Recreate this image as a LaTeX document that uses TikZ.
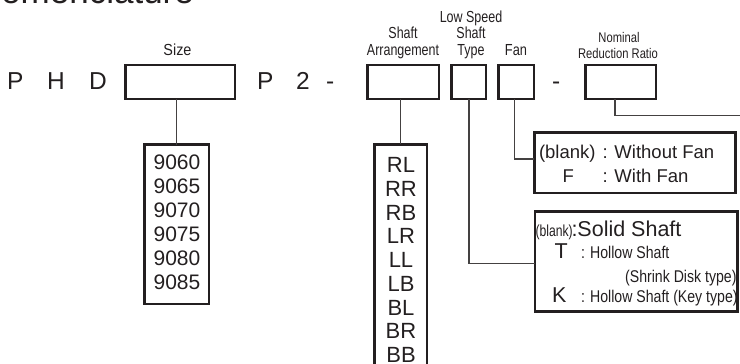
\documentclass[tikz,border=0pt]{standalone}
\usepackage{fontspec}
\setmainfont{Liberation Sans}
\definecolor{ink}{HTML}{231F20}
\newcommand\fpart{\fontsize{24.5pt}{29pt}\selectfont}
\newcommand\flab{\fontsize{16pt}{19pt}\selectfont}
\newcommand\fsmall{\fontsize{14pt}{17pt}\selectfont}
\newcommand\fnum{\fontsize{21pt}{24pt}\selectfont}
\newcommand\fcode{\fontsize{22pt}{25pt}\selectfont}
\newcommand\fdesc{\fontsize{18.5pt}{22pt}\selectfont}
\newcommand\fsolid{\fontsize{21.5pt}{25pt}\selectfont}
\newcommand\fhol{\fontsize{17pt}{20pt}\selectfont}
\newcommand\cnd[2]{\scalebox{#1}[1]{#2}}
\begin{document}
\begin{tikzpicture}[x=1pt,y=-1pt,
  box/.style={draw=ink,line width=2.5pt,inner sep=0pt,outer sep=0pt},
  conn/.style={draw=ink!85,line width=1.1pt},
  txt/.style={inner sep=0pt,outer sep=0pt,text=ink}]
\useasboundingbox (0,0) rectangle (740,364);
\clip (0,0) rectangle (740,364);
% title (cut off at top)
\node[txt,anchor=base west] (title) at (-24,3.5) {\fontsize{35pt}{40pt}\selectfont Nomenclature};
% code letters
\node[txt,anchor=base west] (p1) at (7,89) {\fpart P};
\node[txt,anchor=base west] (h1) at (47,89) {\fpart H};
\node[txt,anchor=base west] (d1) at (89,89) {\fpart D};
\node[txt,anchor=base west] (p2) at (257,89) {\fpart P};
\node[txt,anchor=base west] (two) at (296,89) {\fpart 2};
\node[txt,anchor=base west] (dash1) at (326,89) {\fpart -};
\node[txt,anchor=base west] (dash2) at (552,89) {\fpart -};
% boxes
\node[box,minimum width=109.5pt,minimum height=34pt] (sizebox) at (180,81.75) {};
\node[box,minimum width=71.5pt,minimum height=34pt] (sabox) at (403,81.75) {};
\node[box,minimum width=34.5pt,minimum height=34pt] (lstbox) at (468.5,81.75) {};
\node[box,minimum width=35.5pt,minimum height=34pt] (fanbox) at (516,81.75) {};
\node[box,minimum width=70.5pt,minimum height=34pt] (nrrbox) at (620.5,81.75) {};
% labels
\node[txt,anchor=base] (lsize) at (177.5,56) {\flab\cnd{0.9}{Size}};
\node[txt,anchor=base] (lsa1) at (403,38.5) {\flab\cnd{0.78}{Shaft}};
\node[txt,anchor=base] (lsa2) at (403,56) {\flab\cnd{0.78}{Arrangement}};
\node[txt,anchor=base] (llst1) at (471,22.5) {\flab\cnd{0.78}{Low Speed}};
\node[txt,anchor=base] (llst2) at (471,38.5) {\flab\cnd{0.78}{Shaft}};
\node[txt,anchor=base] (llst3) at (471,56) {\flab\cnd{0.78}{Type}};
\node[txt,anchor=base] (lfan) at (516,56) {\flab\cnd{0.8}{Fan}};
\node[txt,anchor=base] (lnrr1) at (619,42) {\fsmall\cnd{0.8}{Nominal}};
\node[txt,anchor=base] (lnrr2) at (618,58.5) {\fsmall\cnd{0.8}{Reduction Ratio}};
% size list
\node[box,minimum width=64.2pt,minimum height=159.2pt] (numbox) at (176.7,224.2) {};
\foreach \v [count=\i from 0] in {9060,9065,9070,9075,9080,9085}
  \node[txt,anchor=base] (num\i) at (177,169.8+23.9*\i) {\fnum \v};
% shaft arrangement list
\node[box,minimum width=52.5pt,minimum height=256pt] (rlbox) at (400.5,272.25) {};
\foreach \v [count=\i from 0] in {RL,RR,RB,LR,LL,LB,BL,BR,BB}
  \node[txt,anchor=base] (sa\i) at (401,172.5+23.75*\i) {\fcode \v};
% fan description
\node[box,minimum width=201.2pt,minimum height=60.5pt] (fdbox) at (634.85,162.5) {};
\node[txt,anchor=base west] (fd1a) at (539,158) {\fdesc (blank)};
\node[txt,anchor=base west] (fd1b) at (602.5,158) {\fdesc : Without Fan};
\node[txt,anchor=base west] (fd2a) at (562.5,182) {\fdesc F};
\node[txt,anchor=base west] (fd2b) at (602.5,182) {\fdesc : With Fan};
% shaft type description
\node[box,minimum width=202.5pt,minimum height=100pt] (stbox) at (636,261.25) {};
\node[txt,anchor=base west] (st1a) at (535.5,236.5) {\flab\cnd{0.76}{(blank)}};
\node[txt,anchor=base west] (st1b) at (571.5,236.5) {\fsolid :Solid Shaft};
\node[txt,anchor=base west] (st2a) at (554.5,258) {\fsolid T};
\node[txt,anchor=base west] (st2b) at (581,258) {\fhol\cnd{0.83}{: Hollow Shaft}};
\node[txt,anchor=base east] (st3) at (736.5,282.5) {\fhol\cnd{0.83}{(Shrink Disk type)}};
\node[txt,anchor=base west] (st4a) at (552,302) {\fsolid K};
\node[txt,anchor=base west] (st4b) at (581,302) {\fhol\cnd{0.83}{: Hollow Shaft (Key type)}};
% connectors
\coordinate (nrrend) at (745,115.5);
\draw[conn] (numbox.north) -- (numbox.north |- sizebox.south);
\draw[conn] (rlbox.north) -- (rlbox.north |- sabox.south);
\draw[conn] ([xshift=0.5pt]lstbox.south) |- ([yshift=-2.5pt]stbox.west);
\draw[conn] ([xshift=-1.5pt]fanbox.south) |- ([yshift=3.5pt]fdbox.west);
\draw[conn] ([xshift=-5.5pt]nrrbox.south) |- (nrrend);
\end{tikzpicture}
\end{document}
